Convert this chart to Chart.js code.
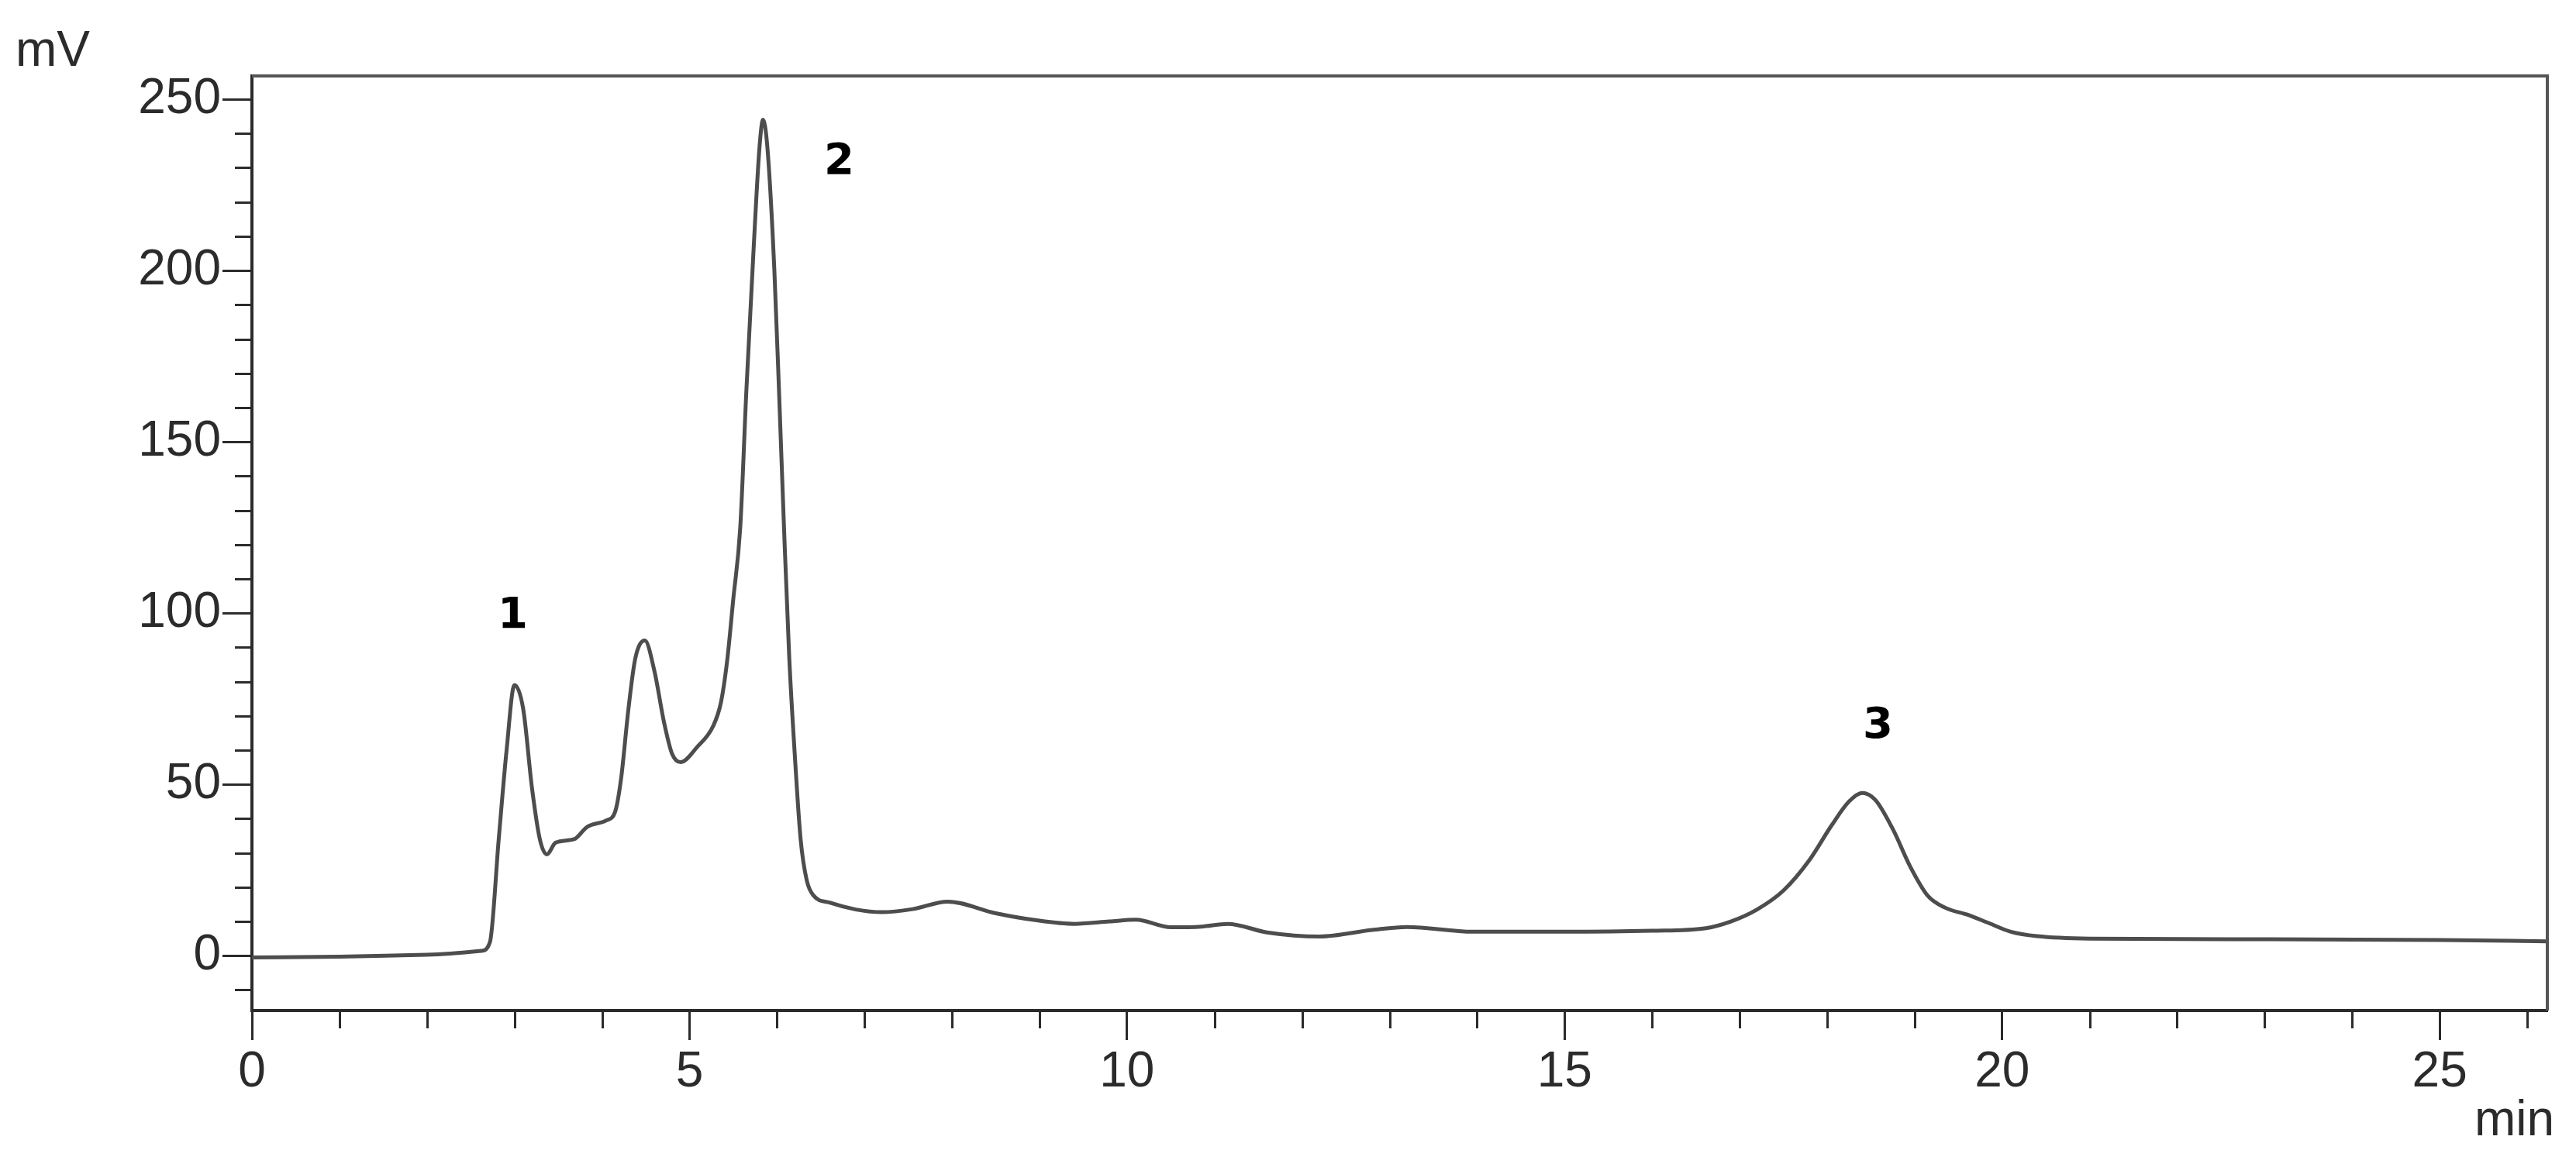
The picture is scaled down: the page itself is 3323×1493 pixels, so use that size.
<!DOCTYPE html>
<html>
<head>
<meta charset="utf-8">
<title>Chromatogram</title>
<script src="https://cdn.jsdelivr.net/npm/chart.js@4.4.1/dist/chart.umd.min.js"></script>
<style>
    html, body { margin: 0; padding: 0; background: #fff; }
    canvas { display: block; }
</style>
</head>
<body>
<canvas id="chromatogram" width="3323" height="1493"></canvas>
<script>
// retention time (min) and detector signal (mV)
const times = [0, 1, 2, 2.62, 2.72, 2.82, 2.91, 3.0, 3.1, 3.2, 3.29, 3.37, 3.47, 3.68, 3.83, 4.05, 4.15, 4.22,
    4.3, 4.38, 4.49, 4.6, 4.71, 4.8, 4.9, 5.09, 5.27, 5.36, 5.43, 5.5, 5.58, 5.65, 5.73, 5.8, 5.84, 5.89,
    5.97, 6.03, 6.08, 6.14, 6.2, 6.27, 6.34, 6.42, 6.6, 6.9, 7.2, 7.55, 7.95, 8.5, 8.95, 9.4, 9.8, 10.1,
    10.5, 10.85, 11.15, 11.6, 12.2, 12.8, 13.2, 13.95, 15, 16, 16.6, 16.9, 17.2, 17.5, 17.8, 18.05, 18.25,
    18.4, 18.55, 18.75, 18.95, 19.15, 19.35, 19.6, 19.85, 20.1, 20.4, 21, 23, 25, 26.23];
const signal = [-0.5, -0.3, 0.3, 1.4, 4, 34, 60, 79, 72, 49, 34, 29.6, 33, 34, 37.6, 39.5, 42, 52,
    71.5, 86.7, 92, 83, 68, 59, 56.5, 61, 67, 74, 86, 104, 125, 165, 205, 236, 244, 236,
    200, 160, 125, 87, 60, 34, 22, 17.5, 15.5, 13.5, 12.7, 13.6, 15.8, 12.4, 10.4, 9.3, 10, 10.5,
    8.3, 8.5, 9.3, 6.8, 5.6, 7.5, 8.4, 7, 7, 7.3, 8, 10, 13.5, 19, 28, 38, 45,
    47.5, 45.5, 37, 26, 17.5, 14, 12, 9.5, 7, 5.7, 5, 4.8, 4.6, 4.2];

const xTicks = [0, 5, 10, 15, 20, 25];
const yTicks = [0, 50, 100, 150, 200, 250];

const peakNames = ["1", "2", "3"];
const peakLabelTime = [2.98, 6.71, 18.58];
const peakLabelSignal = [99, 231.5, 67];

const FONT = "'Liberation Sans', Arial, sans-serif";
const INK = "#2b2b2b";

const points = times.map((t, i) => ({ x: t, y: signal[i] }));

// minor ticks, frame and the free text labels
const decorations = {
    id: "decorations",
    beforeDraw(chart) {
        const c = chart.ctx;
        c.save();
        c.fillStyle = "#fff";
        c.fillRect(0, 0, chart.width, chart.height);
        c.restore();
    },
    afterDraw(chart) {
        const c = chart.ctx;
        const area = chart.chartArea;
        const xs = chart.scales.x;
        const ys = chart.scales.y;
        c.save();

        // frame top + right
        c.strokeStyle = "#555";
        c.lineWidth = 4;
        c.beginPath();
        c.moveTo(area.left, area.top);
        c.lineTo(area.right, area.top);
        c.lineTo(area.right, area.bottom);
        c.stroke();

        // minor ticks
        c.strokeStyle = INK;
        c.lineWidth = 3;
        c.beginPath();
        for (let v = -10; v <= 250; v += 10) {
            if (v % 50 === 0) continue;
            const py = Math.round(ys.getPixelForValue(v)) + 0.5;
            c.moveTo(area.left - 22, py);
            c.lineTo(area.left, py);
        }
        for (let t = 1; t <= 26; t++) {
            if (t % 5 === 0) continue;
            const px = Math.round(xs.getPixelForValue(t)) + 0.5;
            c.moveTo(px, area.bottom);
            c.lineTo(px, area.bottom + 23);
        }
        c.stroke();

        // axis units
        c.fillStyle = INK;
        c.font = "64px " + FONT;
        c.textAlign = "left";
        c.textBaseline = "alphabetic";
        c.fillText("mV", 20, 85);
        c.fillText("min", 3192, 1465);

        // peak numbers
        c.fillStyle = "#000";
        c.font = "bold 56px 'DejaVu Sans', Verdana, sans-serif";
        c.textAlign = "center";
        c.textBaseline = "middle";
        peakNames.forEach((name, i) => {
            c.fillText(name, xs.getPixelForValue(peakLabelTime[i]), ys.getPixelForValue(peakLabelSignal[i]));
        });
        c.restore();
    }
};

new Chart(document.getElementById("chromatogram").getContext("2d"), {
    type: "line",
    data: {
        datasets: [{
            data: points,
            borderColor: "#4d4d4d",
            borderWidth: 5,
            pointRadius: 0,
            fill: false,
            cubicInterpolationMode: "monotone"
        }]
    },
    options: {
        responsive: false,
        animation: false,
        devicePixelRatio: 1,
        layout: { padding: { top: 98, right: 37, left: 0, bottom: 0 } },
        plugins: {
            legend: { display: false },
            tooltip: { enabled: false }
        },
        scales: {
            x: {
                type: "linear",
                min: 0,
                max: 26.23,
                afterBuildTicks: scale => { scale.ticks = xTicks.map(v => ({ value: v })); },
                afterFit: scale => { scale.height = 189; },
                ticks: {
                    color: INK,
                    font: { family: FONT, size: 64 },
                    padding: 4,
                    maxRotation: 0,
                    autoSkip: false
                },
                grid: {
                    drawOnChartArea: false,
                    drawTicks: true,
                    tickLength: 38,
                    tickWidth: 3,
                    tickColor: INK
                },
                border: { color: INK, width: 4 }
            },
            y: {
                min: -16,
                max: 256.8,
                afterBuildTicks: scale => { scale.ticks = yTicks.map(v => ({ value: v })); },
                afterFit: scale => { scale.width = 325; },
                ticks: {
                    color: INK,
                    font: { family: FONT, size: 64 },
                    padding: 2
                },
                grid: {
                    drawOnChartArea: false,
                    drawTicks: true,
                    tickLength: 38,
                    tickWidth: 3,
                    tickColor: INK
                },
                border: { color: INK, width: 4 }
            }
        }
    },
    plugins: [decorations]
});
</script>
</body>
</html>
